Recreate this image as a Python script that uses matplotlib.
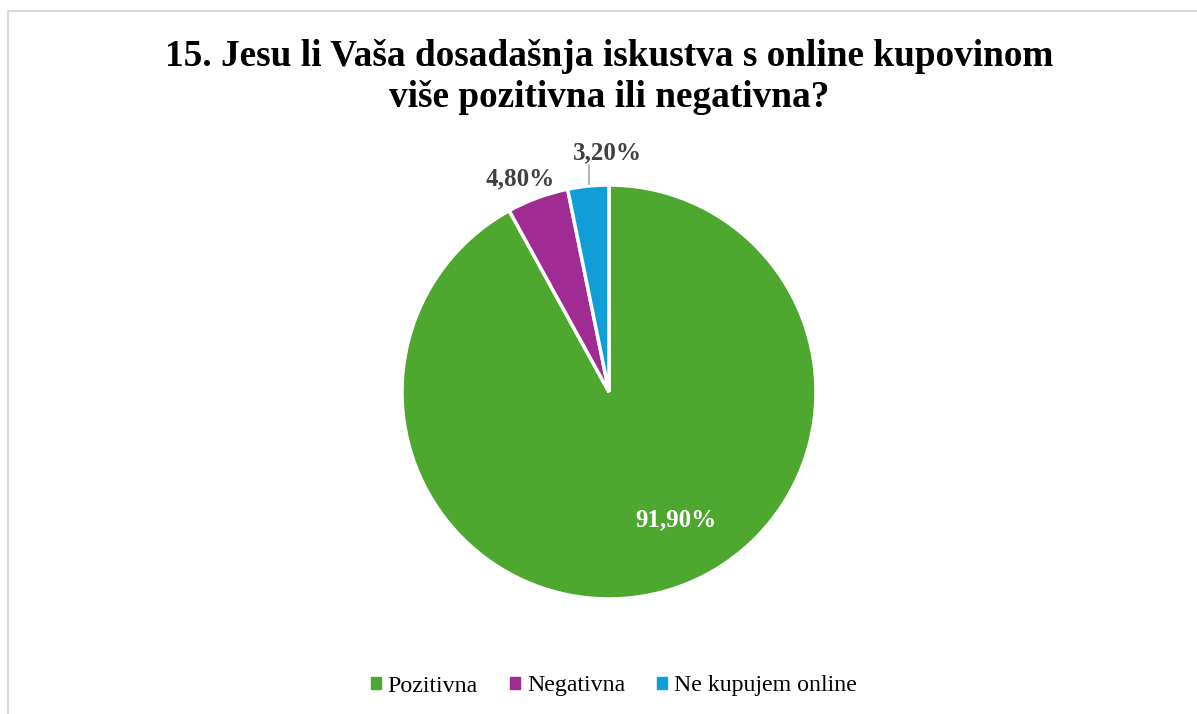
import matplotlib
matplotlib.use("Agg")
import matplotlib.pyplot as plt
from matplotlib.lines import Line2D
from matplotlib.patches import Rectangle

categories = ["Pozitivna", "Negativna", "Ne kupujem online"]
values = [91.90, 4.80, 3.20]
labels = ["91,90%", "4,80%", "3,20%"]
colors = ["#4EA72E", "#A02B93", "#0F9ED5"]
title = "15. Jesu li Vaša dosadašnja iskustva s online kupovinom\nviše pozitivna ili negativna?"

plt.rcParams['font.family'] = ['Liberation Serif', 'DejaVu Serif']

W, H = 1197, 714
fig = plt.figure(figsize=(W / 100, H / 100), dpi=100)

# frame lines (top and left visible)
fig.add_artist(Line2D([8 / W, 1.0], [1 - 11 / H, 1 - 11 / H], color="#D9D9D9", lw=1.5, transform=fig.transFigure))
fig.add_artist(Line2D([8 / W, 8 / W], [0, 1 - 11 / H], color="#D9D9D9", lw=1.5, transform=fig.transFigure))

cx, cy, r = 609, 392, 207
ax = fig.add_axes([(cx - r) / W, 1 - (cy + r) / H, 2 * r / W, 2 * r / H])
wedges, _ = ax.pie(values, colors=colors, startangle=90, counterclock=False,
                   wedgeprops=dict(edgecolor="white", linewidth=2.5), radius=1.0)
ax.set_xlim(-1, 1)
ax.set_ylim(-1, 1)
ax.set_aspect("equal")
ax.axis("off")

def px_to_data(x, y):
    return ((x - cx) / r, (cy - y) / r)

label_pos = [(676, 520), (520, 179), (607, 153)]
for lab, (x, y) in zip(labels, label_pos):
    dx, dy = px_to_data(x, y)
    ax.text(dx, dy, lab, ha="center", va="center", fontsize=18, fontweight="bold",
            color="white" if lab == labels[0] else "#404040", clip_on=False)

# leader line for 3,20%
x0, y0 = px_to_data(589, 165)
x1, y1 = px_to_data(589, 184)
ax.plot([x0, x1], [y0, y1], color="#A6A6A6", lw=1.2, clip_on=False)

fig.text(609 / W, 1 - 77 / H, title, ha="center", va="center", fontsize=26.8,
         fontweight="bold", color="black", linespacing=1.25)

handles = [Rectangle((0, 0), 1, 1, color=c) for c in colors]
fig.legend(handles, categories, loc="center", bbox_to_anchor=(614 / W, 1 - 686 / H),
           ncol=3, frameon=False, fontsize=17.2, handlelength=0.4, handleheight=0.4,
           handletextpad=0.3, columnspacing=1.35)

fig.savefig("out.png", dpi=100, facecolor="white")
